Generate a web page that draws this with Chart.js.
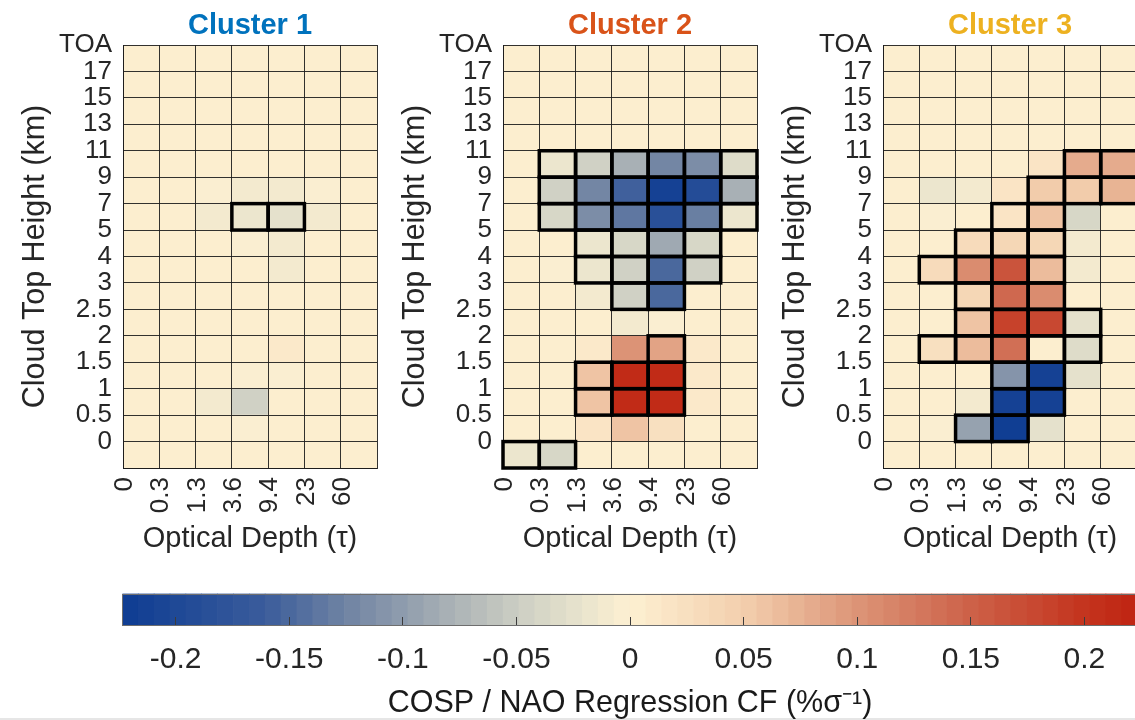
<!DOCTYPE html>
<html>
<head>
<meta charset="utf-8">
<script src="https://cdn.jsdelivr.net/npm/chart.js@4.4.0/dist/chart.umd.min.js"></script>
<style>
  html, body { margin: 0; padding: 0; background: #fff; overflow: hidden; }
  #wrap { position: relative; width: 1135px; height: 720px; overflow: hidden; background: #fff; }
  #wrap canvas { position: absolute; }
  #edge { position: absolute; left: 0; top: 718px; width: 1135px; height: 2px; background: #e6e6e6; }
</style>
</head>
<body>
<div id="wrap">
  <div id="edge"></div>
  <canvas id="c1" width="381" height="560" style="left:0px;top:0px"></canvas>
  <canvas id="c2" width="381" height="560" style="left:380px;top:0px"></canvas>
  <canvas id="c3" width="381" height="560" style="left:760px;top:0px"></canvas>
  <canvas id="cb" width="1150" height="150" style="left:0px;top:580px"></canvas>
</div>
<script>
// ---- bins and labels ----
const opticalDepthBins = ['0', '0.3', '1.3', '3.6', '9.4', '23', '60'];
const cloudTopBins = ['TOA', '17', '15', '13', '11', '9', '7', '5', '4', '3', '2.5', '2', '1.5', '1', '0.5', '0'];
const panelTitles = ['Cluster 1', 'Cluster 2', 'Cluster 3'];
const colorbarTicks = [-0.2, -0.15, -0.1, -0.05, 0, 0.05, 0.1, 0.15, 0.2];
const colorbarTickLabels = ['-0.2', '-0.15', '-0.1', '-0.05', '0', '0.05', '0.1', '0.15', '0.2'];

// ---- regression of cloud fraction on NAO, rows top (TOA) to bottom, columns by optical depth ----
const cluster1 = [
  [0.003, 0.003, 0.003, 0.003, 0.003, 0.003, 0.003],
  [0.003, 0.003, 0.003, 0.003, 0.003, 0.003, 0.003],
  [0.003, 0.003, 0.003, 0.003, 0.003, 0.003, 0.003],
  [0.003, 0.003, 0.003, 0.003, 0.003, 0.003, 0.003],
  [0.003, 0.003, 0.003, 0.002, 0.002, 0.003, 0.003],
  [0.003, 0.003, -0.004, -0.009, -0.008, -0.003, 0.003],
  [0.002, 0.002, -0.010, -0.020, -0.024, -0.008, 0.002],
  [0.003, 0.003, 0.001, -0.004, -0.010, 0.001, 0.003],
  [0.003, 0.003, 0.002, 0.001, -0.011, 0.002, 0.003],
  [0.003, 0.003, 0.003, 0.003, 0.002, 0.003, 0.003],
  [0.003, 0.003, 0.003, 0.004, 0.003, 0.003, 0.003],
  [0.003, 0.004, 0.005, 0.006, 0.010, 0.004, 0.003],
  [0.003, 0.003, 0.002, -0.004, -0.006, 0.002, 0.003],
  [0.003, 0.003, -0.010, -0.048, 0.002, 0.003, 0.003],
  [0.003, 0.003, 0.003, -0.004, 0.003, 0.003, 0.003],
  [0.003, 0.003, 0.003, 0.003, 0.003, 0.003, 0.003]
];
const cluster2 = [
  [0.003, 0.003, 0.003, 0.003, 0.003, 0.003, 0.003],
  [0.003, 0.003, 0.003, 0.003, 0.003, 0.003, 0.003],
  [0.003, 0.003, 0.003, 0.003, 0.003, 0.003, 0.003],
  [0.003, 0.003, 0.003, 0.003, 0.003, 0.003, 0.003],
  [0.004, -0.020, -0.045, -0.080, -0.125, -0.115, -0.030],
  [0.004, -0.045, -0.125, -0.160, -0.215, -0.195, -0.080],
  [0.004, -0.040, -0.115, -0.135, -0.185, -0.130, -0.015],
  [0.004, 0.003, -0.015, -0.040, -0.085, -0.035, 0.003],
  [0.004, -0.006, -0.018, -0.045, -0.150, -0.045, 0.003],
  [0.004, 0.003, -0.008, -0.042, -0.150, 0.003, 0.004],
  [0.004, 0.003, 0.003, -0.010, -0.002, 0.004, 0.004],
  [0.004, 0.004, 0.008, 0.100, 0.090, 0.012, 0.004],
  [0.004, 0.004, 0.060, 0.215, 0.215, 0.012, 0.004],
  [0.004, 0.004, 0.062, 0.210, 0.210, 0.010, 0.004],
  [0.004, 0.004, 0.020, 0.062, 0.026, 0.006, 0.004],
  [-0.015, -0.040, 0.004, 0.004, 0.004, 0.004, 0.004]
];
const cluster3 = [
  [0.003, 0.003, 0.003, 0.003, 0.003, 0.003, 0.003],
  [0.003, 0.003, 0.003, 0.003, 0.003, 0.003, 0.003],
  [0.003, 0.003, 0.003, 0.003, 0.003, 0.003, 0.003],
  [0.003, 0.003, 0.003, 0.002, 0.003, 0.004, 0.004],
  [0.003, 0.003, 0.003, 0.004, 0.015, 0.078, 0.078],
  [0.003, -0.015, -0.012, 0.015, 0.055, 0.050, 0.075],
  [0.003, -0.004, 0.002, 0.020, 0.060, -0.035, 0.003],
  [0.003, 0.003, 0.030, 0.035, 0.038, -0.012, 0.003],
  [0.003, 0.030, 0.105, 0.165, 0.065, -0.012, 0.003],
  [0.003, 0.004, 0.038, 0.143, 0.107, 0.004, 0.003],
  [0.003, 0.004, 0.062, 0.185, 0.178, -0.025, 0.003],
  [0.003, 0.025, 0.065, 0.134, 0.002, -0.028, 0.003],
  [0.003, 0.003, 0.004, -0.110, -0.215, -0.027, 0.003],
  [0.003, 0.003, -0.013, -0.215, -0.210, 0.003, 0.003],
  [0.003, -0.004, -0.095, -0.220, -0.022, 0.003, 0.003],
  [0.003, 0.003, 0.003, 0.003, 0.003, 0.003, 0.003]
];

// ---- significant cells (1 = outlined), same row/column order ----
const cluster1Sig = [
  '0000000', '0000000', '0000000', '0000000', '0000000', '0000000',
  '0001100', '0000000', '0000000', '0000000', '0000000', '0000000',
  '0000000', '0000000', '0000000', '0000000'
];
const cluster2Sig = [
  '0000000', '0000000', '0000000', '0000000',
  '0111111', '0111111', '0111111', '0011110', '0011110', '0001100',
  '0000000', '0000100', '0011100', '0011100', '0000000', '1100000'
];
const cluster3Sig = [
  '0000000', '0000000', '0000000', '0000000',
  '0000011', '0000111', '0001100', '0011100', '0111100', '0011100',
  '0011110', '0111110', '0001100', '0001100', '0011000', '0000000'
];

// ---- diverging colour map, 64 discrete levels ----
const VMAX = 0.2234;
const NLEV = 64;
const CMAP = [
  [0.000, [14, 60, 147]],
  [0.140, [58, 92, 155]],
  [0.220, [111, 131, 163]],
  [0.320, [168, 176, 181]],
  [0.400, [209, 210, 197]],
  [0.455, [233, 228, 205]],
  [0.500, [253, 240, 210]],
  [0.612, [243, 207, 174]],
  [0.724, [220, 148, 119]],
  [0.836, [205, 97, 72]],
  [0.948, [196, 52, 30]],
  [1.000, [191, 35, 18]]
];
function cmap(t) {
  for (let k = 1; k < CMAP.length; k++) {
    const [t1, c1] = CMAP[k];
    const [t0, c0] = CMAP[k - 1];
    if (t <= t1) {
      const f = (t - t0) / (t1 - t0);
      const c = c0.map((v, i) => Math.round(v + (c1[i] - v) * f));
      return `rgb(${c[0]},${c[1]},${c[2]})`;
    }
  }
  const c = CMAP[CMAP.length - 1][1];
  return `rgb(${c[0]},${c[1]},${c[2]})`;
}
function levelColor(i) { return cmap((i + 0.5) / NLEV); }
function colorOf(v) {
  let i = Math.floor((v + VMAX) / (2 * VMAX) * NLEV);
  i = Math.max(0, Math.min(NLEV - 1, i));
  return levelColor(i);
}

// ---- shared styling ----
const FONT = "'Liberation Sans', Arial, Helvetica, sans-serif";
const INK = '#262626';
const GRID = 'rgba(28,28,28,0.9)';
const TITLE_COLORS = ['#0072BD', '#D95319', '#EDB120'];

function makePanel(canvasId, title, titleColor, values, sigMask) {
  const cells = [];
  const fills = [];
  values.forEach((row, r) => row.forEach((v, c) => {
    cells.push({ x: c + 0.5, y: [r, r + 1] });
    fills.push(colorOf(v));
  }));

  // thick outline around each significant cell
  const significance = {
    id: 'significance',
    afterDraw(chart) {
      const { ctx, scales: { x, y } } = chart;
      ctx.save();
      ctx.strokeStyle = '#000';
      ctx.lineWidth = 3.5;
      ctx.lineJoin = 'miter';
      sigMask.forEach((row, r) => {
        for (let c = 0; c < row.length; c++) {
          if (row[c] !== '1') continue;
          const x0 = x.getPixelForValue(c), x1 = x.getPixelForValue(c + 1);
          const y0 = y.getPixelForValue(r), y1 = y.getPixelForValue(r + 1);
          ctx.strokeRect(x0, y0, x1 - x0, y1 - y0);
        }
      });
      ctx.restore();
    }
  };

  return new Chart(document.getElementById(canvasId), {
    type: 'bar',
    data: {
      datasets: [{
        data: cells,
        backgroundColor: fills,
        borderWidth: 0,
        barPercentage: 1,
        categoryPercentage: 1
      }]
    },
    options: {
      responsive: false,
      animation: false,
      events: [],
      layout: { padding: { left: 0, right: 4, top: 0, bottom: 0 } },
      plugins: {
        legend: { display: false },
        tooltip: { enabled: false },
        title: {
          display: true,
          text: title,
          color: titleColor,
          fullSize: false,
          font: { family: FONT, size: 29, weight: 'bold', lineHeight: 1.1 },
          padding: { top: 10, bottom: 3.1 }
        }
      },
      scales: {
        x: {
          type: 'linear',
          min: 0,
          max: opticalDepthBins.length,
          offset: false,
          afterBuildTicks: s => { s.ticks = Array.from({ length: opticalDepthBins.length + 1 }, (_, i) => ({ value: i })); },
          afterFit: s => { s.height = 92; s.paddingLeft = 0; s.paddingRight = 0; },
          ticks: {
            autoSkip: false,
            minRotation: 90,
            maxRotation: 90,
            padding: 9,
            labelOffset: 2,
            color: INK,
            font: { family: FONT, size: 26 },
            callback: v => opticalDepthBins[Math.round(v)] ?? ''
          },
          grid: { color: GRID, lineWidth: 1, z: 1, drawTicks: false, offset: false },
          border: { display: true, color: GRID, width: 1, z: 1 },
          title: {
            display: true,
            text: 'Optical Depth (τ)',
            color: INK,
            font: { family: FONT, size: 29, lineHeight: 1.2 },
            padding: { top: 0, bottom: 4 }
          }
        },
        y: {
          type: 'linear',
          reverse: true,
          min: 0,
          max: cloudTopBins.length,
          afterBuildTicks: s => { s.ticks = Array.from({ length: cloudTopBins.length + 1 }, (_, i) => ({ value: i })); },
          afterFit: s => { s.width = 123; s.paddingTop = 0; s.paddingBottom = 0; },
          ticks: {
            autoSkip: false,
            padding: 11,
            color: INK,
            font: { family: FONT, size: 26 },
            callback: v => cloudTopBins[Math.round(v)] ?? ''
          },
          grid: { color: GRID, lineWidth: 1, z: 1, drawTicks: false },
          border: { display: true, color: GRID, width: 1, z: 1 },
          title: {
            display: true,
            text: 'Cloud Top Height (km)',
            color: INK,
            font: { family: FONT, size: 30.5, lineHeight: 1.2 },
            padding: { top: 17.7, bottom: 0 }
          }
        }
      }
    },
    plugins: [significance]
  });
}

makePanel('c1', panelTitles[0], TITLE_COLORS[0], cluster1, cluster1Sig);
makePanel('c2', panelTitles[1], TITLE_COLORS[1], cluster2, cluster2Sig);
makePanel('c3', panelTitles[2], TITLE_COLORS[2], cluster3, cluster3Sig);

// ---- colour bar ----
const levelStep = 2 * VMAX / NLEV;
const barLevels = [];
const barColors = [];
for (let i = 0; i < NLEV; i++) {
  barLevels.push({ x: -VMAX + (i + 0.5) * levelStep, y: 1 });
  barColors.push(levelColor(i));
}

const colorbarFrame = {
  id: 'colorbarFrame',
  afterDraw(chart) {
    const { ctx, chartArea: a } = chart;
    ctx.save();
    ctx.strokeStyle = '#6e6e6e';
    ctx.lineWidth = 1;
    const l = Math.round(a.left) + 0.5, t = Math.round(a.top) + 0.5;
    const r = Math.round(a.right) - 0.5, b = Math.round(a.bottom) - 0.5;
    ctx.strokeRect(l, t, r - l, b - t);
    ctx.restore();
  }
};

new Chart(document.getElementById('cb'), {
  type: 'bar',
  data: {
    datasets: [{
      data: barLevels,
      backgroundColor: barColors,
      borderWidth: 0,
      barPercentage: 1,
      categoryPercentage: 1
    }]
  },
  options: {
    responsive: false,
    animation: false,
    events: [],
    layout: { padding: { left: 122.4, right: 12.4, top: 13.5, bottom: 0 } },
    plugins: { legend: { display: false }, tooltip: { enabled: false }, title: { display: false } },
    scales: {
      x: {
        type: 'linear',
        min: -VMAX,
        max: VMAX,
        offset: false,
        afterBuildTicks: s => { s.ticks = colorbarTicks.map(v => ({ value: v })); },
        afterFit: s => { s.height = 104; s.paddingLeft = 0; s.paddingRight = 0; },
        ticks: {
          autoSkip: false,
          maxRotation: 0,
          minRotation: 0,
          padding: 25,
          color: INK,
          font: { family: FONT, size: 30 },
          callback: (v, i) => colorbarTickLabels[i]
        },
        grid: { drawOnChartArea: false, drawTicks: true, tickLength: -9, color: '#3c3c3c', lineWidth: 1, z: 1, offset: false },
        border: { display: false },
        title: {
          display: true,
          text: 'COSP / NAO Regression CF (%σ⁻¹)',
          color: '#1a1a1a',
          font: { family: FONT, size: 30.5, lineHeight: 1.2 },
          padding: { top: 0, bottom: 8 }
        }
      },
      y: { display: false, min: 0, max: 1 }
    }
  },
  plugins: [colorbarFrame]
});
</script>
</body>
</html>
